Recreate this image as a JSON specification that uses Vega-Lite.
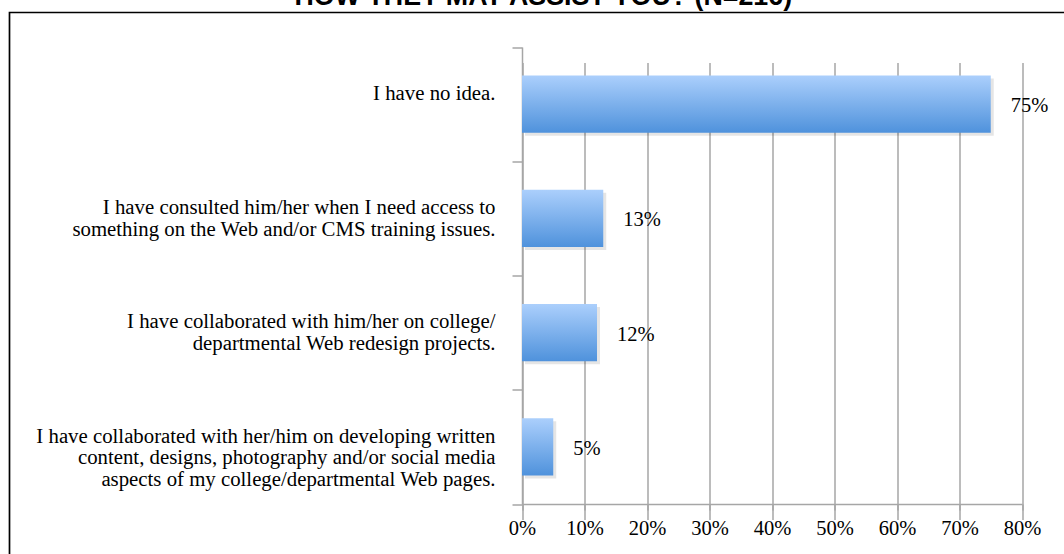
{
  "$schema": "https://vega.github.io/schema/vega-lite/v6.json",
  "width": 1054.5,
  "height": 541.5,
  "autosize": {"type": "none"},
  "padding": {"left": 9.5, "top": 12.5, "right": 0, "bottom": 0},
  "background": "white",
  "title": {
    "text": "HOW THEY MAY ASSIST YOU? (N=216)",
    "font": "Liberation Sans",
    "fontSize": 26.8,
    "fontWeight": "bold",
    "color": "#000000",
    "anchor": "start",
    "frame": "group",
    "baseline": "alphabetic",
    "offset": 0,
    "dx": 285,
    "dy": 30
  },
  "config": {"view": {"stroke": "#000000", "strokeWidth": 1.7, "strokeDash": [1054.5, 1596, 541.5]}},
  "data": {
    "values": [
      {"response": "I have no idea.", "pct": 0.75},
      {"response": "I have consulted him/her when I need access to|something on the Web and/or CMS training issues.", "pct": 0.13},
      {"response": "I have collaborated with him/her on college/|departmental Web redesign projects.", "pct": 0.12},
      {"response": "I have collaborated with her/him on developing written|content, designs, photography and/or social media|aspects of my college/departmental Web pages.", "pct": 0.05}
    ]
  },
  "encoding": {
    "y": {
      "field": "response",
      "type": "nominal",
      "sort": null,
      "scale": {"range": [34.5, 491.5], "paddingInner": 0, "paddingOuter": 0},
      "axis": {
        "title": null,
        "offset": -512.5,
        "domainColor": "#a6a6a6",
        "domainWidth": 1.5,
        "tickColor": "#a6a6a6",
        "tickWidth": 1.5,
        "tickSize": 10,
        "tickBand": "extent",
        "labelFont": "Liberation Serif",
        "labelFontSize": 20.8,
        "labelColor": "#000000",
        "labelPadding": 17,
        "labelOffset": -10.75,
        "labelLineHeight": 21.5,
        "labelLimit": 0,
        "labelOverlap": false,
        "labelExpr": "split(datum.label, '|')",
        "grid": false
      }
    }
  },
  "layer": [
    {
      "mark": {
        "type": "bar",
        "height": {"band": 0.5},
        "color": "#000000",
        "opacity": 0.1,
        "xOffset": 3,
        "yOffset": 3
      },
      "encoding": {
        "x": {
          "field": "pct",
          "type": "quantitative",
          "scale": {"domain": [0, 0.8], "range": [512.5, 1012.5]},
          "axis": {
            "title": null,
            "orient": "bottom",
            "offset": -50,
            "format": ".0%",
            "values": [0, 0.1, 0.2, 0.3, 0.4, 0.5, 0.6, 0.7, 0.8],
            "grid": true,
            "gridColor": "#a6a6a6",
            "gridWidth": 1.5,
            "domainColor": "#a6a6a6",
            "domainWidth": 1.5,
            "tickColor": "#a6a6a6",
            "tickWidth": 1.5,
            "tickSize": 6,
            "labelFont": "Liberation Serif",
            "labelFontSize": 20.5,
            "labelColor": "#000000",
            "labelPadding": 8,
            "labelFlush": false,
            "labelOverlap": false
          }
        }
      }
    },
    {
      "mark": {
        "type": "bar",
        "height": {"band": 0.5},
        "color": {
          "gradient": "linear",
          "x1": 0, "y1": 0, "x2": 0, "y2": 1,
          "stops": [
            {"offset": 0, "color": "#abcffc"},
            {"offset": 1, "color": "#4f92dc"}
          ]
        }
      },
      "encoding": {
        "x": {"field": "pct", "type": "quantitative"}
      }
    },
    {
      "mark": {
        "type": "text",
        "align": "left",
        "baseline": "middle",
        "dx": 20,
        "dy": 2,
        "font": "Liberation Serif",
        "fontSize": 20.5,
        "color": "#000000"
      },
      "encoding": {
        "x": {"field": "pct", "type": "quantitative"},
        "text": {"field": "pct", "type": "quantitative", "format": ".0%"}
      }
    }
  ]
}
